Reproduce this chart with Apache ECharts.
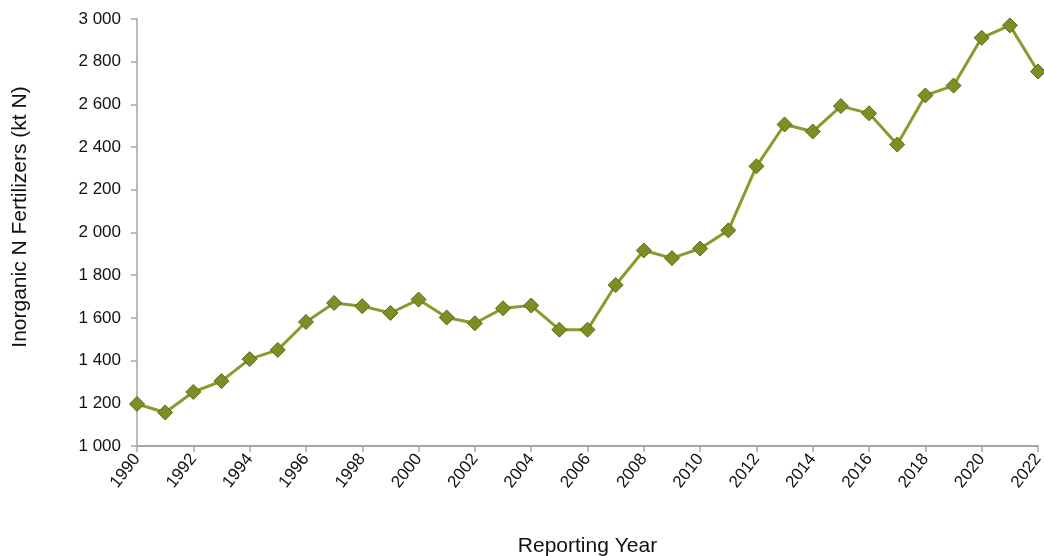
<!DOCTYPE html>
<html>
<head>
<meta charset="utf-8">
<script src="https://cdn.jsdelivr.net/npm/echarts@6/dist/echarts.min.js"></script>
<style>html,body{margin:0;padding:0;background:#fff}#c{width:1044px;height:556px}</style>
</head>
<body>
<div id="c"></div>
<script>
const years = ['1990','1991','1992','1993','1994','1995','1996','1997','1998','1999','2000','2001','2002','2003','2004','2005','2006','2007','2008','2009','2010','2011','2012','2013','2014','2015','2016','2017','2018','2019','2020','2021','2022'];
const fertilizer = [1197,1157,1253,1304,1407,1450,1581,1670,1655,1623,1686,1602,1575,1645,1658,1545,1545,1754,1916,1880,1925,2010,2310,2506,2473,2592,2558,2412,2642,2688,2912,2970,2754];
const yTicks = {min: 1000, max: 3000, interval: 200};
const yTitle = 'Inorganic N Fertilizers (kt N)';
const xTitle = 'Reporting Year';

const chart = echarts.init(document.getElementById('c'));
chart.setOption({
  animation: false,
  grid: {left: 137, right: 6, top: 19, bottom: 110, containLabel: false, outerBoundsMode: 'none'},
  graphic: [{
    type: 'text',
    x: 20, y: 217,
    rotation: Math.PI / 2,
    style: {text: yTitle, fontFamily: 'Liberation Sans', fontSize: 21, fill: '#111', align: 'center', verticalAlign: 'middle'}
  }],
  xAxis: {
    type: 'category',
    data: years,
    boundaryGap: false,
    name: xTitle,
    nameLocation: 'middle',
    nameGap: 90,
    nameTextStyle: {fontFamily: 'Liberation Sans', fontSize: 21, color: '#111'},
    axisLine: {lineStyle: {color: '#a6a6a6', width: 2}},
    axisTick: {interval: 1, length: 6, lineStyle: {color: '#a6a6a6', width: 1.5}},
    axisLabel: {interval: 1, rotate: 52, margin: 10, fontFamily: 'Liberation Sans', fontSize: 17, color: '#111'},
    splitLine: {show: false}
  },
  yAxis: {
    type: 'value',
    min: yTicks.min, max: yTicks.max, interval: yTicks.interval,
    axisLine: {show: true, lineStyle: {color: '#a6a6a6', width: 1.5}},
    axisTick: {show: true, length: 6, lineStyle: {color: '#a6a6a6', width: 1.5}},
    axisLabel: {margin: 16, fontFamily: 'Liberation Sans', fontSize: 17, color: '#111',
      formatter: v => String(v).replace(/\B(?=(\d{3})+(?!\d))/g, ' ')},
    splitLine: {show: false}
  },
  series: [{
    type: 'line',
    data: fertilizer,
    symbol: 'diamond',
    symbolSize: 15,
    lineStyle: {color: '#8a9a2c', width: 3},
    itemStyle: {color: '#7f8d24', borderColor: '#5d6916', borderWidth: 1}
  }]
});
</script>
</body>
</html>
